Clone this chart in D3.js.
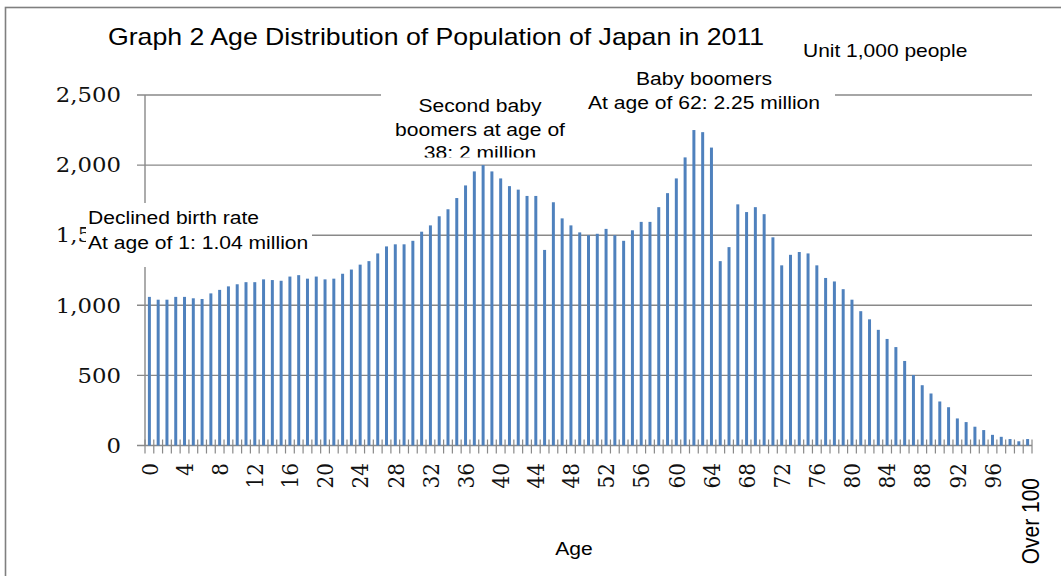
<!DOCTYPE html>
<html>
<head>
<meta charset="utf-8">
<script src="https://cdn.jsdelivr.net/npm/d3@7"></script>
<style>
  body { margin: 0; background: #fff; }
  svg { display: block; }
</style>
</head>
<body>
<svg id="chart" width="1061" height="576"></svg>
<script>
// ---- data -------------------------------------------------------------
const ages = d3.range(0, 101);
const categoryLabels = ages.map(a => a === 100 ? "Over 100" : String(a));
// population by single year of age, thousands of people
const population = [
  1060, 1040, 1040, 1060, 1060, 1050, 1045, 1085, 1110, 1135,
  1150, 1165, 1165, 1185, 1180, 1175, 1205, 1215, 1190, 1205,
  1185, 1190, 1225, 1255, 1290, 1315, 1370, 1420, 1435, 1435,
  1460, 1525, 1570, 1635, 1685, 1765, 1855, 1955, 2000, 1955,
  1905, 1850, 1825, 1780, 1780, 1395, 1735, 1620, 1570, 1520,
  1500, 1510, 1545, 1500, 1460, 1535, 1595, 1595, 1700, 1800,
  1905, 2055, 2250, 2235, 2125, 1315, 1415, 1720, 1665, 1700,
  1650, 1485, 1285, 1360, 1380, 1370, 1285, 1195, 1170, 1115,
  1040,  958,  900,  825,  760,  702,  603,  503,  430,  371,
   314,  273,  193,  167,  134,  110,   76,   62,   46,   30,
    46
];
const yTickValues = [0, 500, 1000, 1500, 2000, 2500];
const xTickLabels = ["0","4","8","12","16","20","24","28","32","36","40","44","48",
                     "52","56","60","64","68","72","76","80","84","88","92","96","Over 100"];
const titleText = "Graph 2 Age Distribution of Population of Japan in 2011";
const unitText = "Unit 1,000 people";
const xAxisTitle = "Age";
const noteBabyBoom = ["Baby boomers", "At age of 62: 2.25 million"];
const noteSecondBoom = ["Second baby", "boomers at age of", "38: 2 million"];
const noteLowBirth = ["Declined birth rate", "At age of 1: 1.04 million"];

// ---- layout -----------------------------------------------------------
const W = 1061, H = 576;
const plot = { left: 145, right: 1032, top: 95, bottom: 445.5 };
const SX = 1.14;                 // horizontal stretch of all lettering
const GRID = "#898989";
const BAR = "#4f81bd";
const SANS = "'Liberation Sans', Arial, sans-serif";
const SERIF = "'DejaVu Serif', serif";

const svg = d3.select("#chart");
svg.append("rect").attr("width", W).attr("height", H).attr("fill", "#fff");

// outer frame of the chart
svg.append("rect")
  .attr("x", 5.5).attr("y", 7.5).attr("width", W + 20).attr("height", H + 20)
  .attr("fill", "none").attr("stroke", "#7f7f7f").attr("stroke-width", 1.6);

const x = d3.scaleBand()
  .domain(categoryLabels)
  .range([plot.left, plot.right])
  .paddingInner(0.66)
  .paddingOuter(0.33);

const y = d3.scaleLinear()
  .domain([0, 2500])
  .range([plot.bottom, plot.top]);

// text helper: stretched horizontally around its anchor point
function txt(parent, px, py, s, o = {}) {
  const t = parent.append("text")
    .attr("transform", `translate(${px},${py}) scale(${SX},1)${o.rotate ? " rotate(" + o.rotate + ")" : ""}`)
    .attr("font-family", o.family || SANS)
    .attr("font-size", o.size || 18.5)
    .attr("fill", o.fill || "#000")
    .attr("text-anchor", o.anchor || "start")
    .text(s);
  if (o.dy) t.attr("dy", o.dy);
  return t;
}

// ---- gridlines + y axis ----------------------------------------------
const gy = svg.append("g");
gy.selectAll("line.grid")
  .data(yTickValues)
  .join("line")
  .attr("class", "grid")
  .attr("x1", plot.left - 8).attr("x2", plot.right)
  .attr("y1", d => y(d)).attr("y2", d => y(d))
  .attr("stroke", GRID).attr("stroke-width", 1.4);

gy.append("line")
  .attr("x1", plot.left).attr("x2", plot.left)
  .attr("y1", y(2500)).attr("y2", y(0))
  .attr("stroke", GRID).attr("stroke-width", 1.4);

const yFmt = d3.format(",");
yTickValues.forEach(v => {
  txt(gy, plot.left - 24, y(v), yFmt(v), { family: SERIF, size: 20, anchor: "end", dy: "0.36em", fill: "#111" });
});

// ---- category ticks (between bars, crossing the axis) ------------------
const step = x.step();
const boundaries = categoryLabels.map(c => x(c) + x.bandwidth() / 2 - step / 2)
  .concat([x(categoryLabels[categoryLabels.length - 1]) + x.bandwidth() / 2 + step / 2]);
svg.append("g").selectAll("line")
  .data(boundaries)
  .join("line")
  .attr("x1", d => d).attr("x2", d => d)
  .attr("y1", plot.bottom - 6).attr("y2", plot.bottom + 8)
  .attr("stroke", GRID).attr("stroke-width", 1.2);

// ---- bars -------------------------------------------------------------
svg.append("g").selectAll("rect")
  .data(population)
  .join("rect")
  .attr("x", (d, i) => x(categoryLabels[i]))
  .attr("width", x.bandwidth())
  .attr("y", d => y(d))
  .attr("height", d => y(0) - y(d))
  .attr("fill", BAR);

// ---- x tick labels ----------------------------------------------------
const gx = svg.append("g");
xTickLabels.forEach(l => {
  const cx = x(l) + x.bandwidth() / 2;
  if (l === "Over 100") {
    txt(gx, cx + 3, 478, l, { family: SANS, size: 21, anchor: "end", rotate: -90, dy: "0.36em" });
  } else {
    txt(gx, cx, 463, l, { family: SERIF, size: 20, anchor: "end", rotate: -90, dy: "0.36em", fill: "#111" });
  }
});

txt(svg, 574, 555, xAxisTitle, { size: 18.5, anchor: "middle" });

// ---- titles -------------------------------------------------------------
txt(svg, 108, 45, titleText, { size: 23.4 });
txt(svg, 803, 57, unitText, { size: 18.4 });

// ---- annotation boxes (white, hide what lies behind) -------------------
function note(bx, by, bw, bh, lines, lx, ly, lh, anchor, id) {
  const g = svg.append("g");
  g.append("clipPath").attr("id", id)
    .append("rect").attr("x", bx).attr("y", by).attr("width", bw).attr("height", bh);
  g.append("rect").attr("x", bx).attr("y", by).attr("width", bw).attr("height", bh).attr("fill", "#fff");
  const tg = g.append("g").attr("clip-path", `url(#${id})`);
  lines.forEach((s, i) => txt(tg, lx, ly + i * lh, s, { size: 18.5, anchor }));
}

note(585, 60, 250, 55, noteBabyBoom, 704, 85, 23.5, "middle", "clipBaby");
note(381, 88, 204, 69.5, noteSecondBoom, 480, 112, 23.5, "middle", "clipSecond");
note(86, 203, 226, 64, noteLowBirth, 88, 223.5, 25, "start", "clipLow");
</script>
</body>
</html>
